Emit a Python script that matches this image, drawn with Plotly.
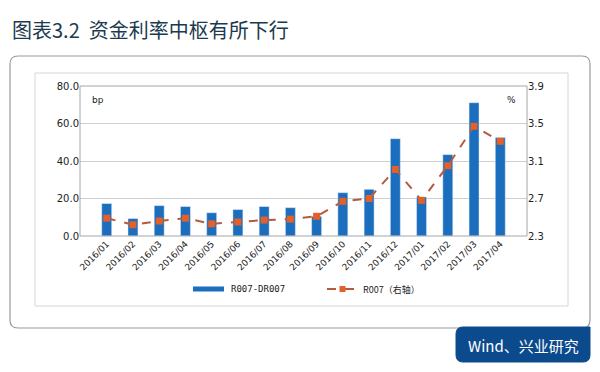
import plotly.graph_objects as go

months = ["2016/01", "2016/02", "2016/03", "2016/04", "2016/05", "2016/06", "2016/07", "2016/08",
          "2016/09", "2016/10", "2016/11", "2016/12", "2017/01", "2017/02", "2017/03", "2017/04"]
spread_bp = [17.3, 9.3, 16.2, 15.7, 12.4, 14.1, 15.7, 15.1, 10.5, 23.1, 24.9, 51.9, 20.8, 43.4, 71.1, 52.5]
r007 = [2.49, 2.42, 2.46, 2.49, 2.43, 2.45, 2.47, 2.48, 2.51, 2.67, 2.70, 3.01, 2.68, 3.05, 3.47, 3.31]
left_ticks = [0, 20, 40, 60, 80]
right_ticks = [2.3, 2.7, 3.1, 3.5, 3.9]

W, H = 600, 372
PL, PR, PT, PB = 80, 527, 86, 236

def px(x):
    return (x - PL) / (PR - PL)

def py(y):
    return (PB - y) / (PB - PT)

BAR = "#1b6dbd"
LINE = "#b65a3e"
MARK = "#e2602a"

fig = go.Figure()
fig.add_trace(go.Bar(x=months, y=spread_bp, name="R007-DR007", marker_color=BAR,
                     width=0.38, yaxis="y", showlegend=False))
fig.add_trace(go.Scatter(x=months, y=r007, name="R007（右轴）", yaxis="y2",
                         mode="lines+markers", line=dict(color=LINE, width=2, dash="dash"),
                         marker=dict(symbol="square", size=7, color=MARK), showlegend=False))

shapes = []

def rounded(x0, y0, x1, y1, r, tl=True, tr=True, br=True, bl=True):
    X = lambda v: px(v)
    Y = lambda v: py(v)
    rtl = r if tl else 0
    rtr = r if tr else 0
    rbr = r if br else 0
    rbl = r if bl else 0
    p = f"M {X(x0+rtl)},{Y(y0)} L {X(x1-rtr)},{Y(y0)} Q {X(x1)},{Y(y0)} {X(x1)},{Y(y0+rtr)} "
    p += f"L {X(x1)},{Y(y1-rbr)} Q {X(x1)},{Y(y1)} {X(x1-rbr)},{Y(y1)} "
    p += f"L {X(x0+rbl)},{Y(y1)} Q {X(x0)},{Y(y1)} {X(x0)},{Y(y1-rbl)} "
    p += f"L {X(x0)},{Y(y0+rtl)} Q {X(x0)},{Y(y0)} {X(x0+rtl)},{Y(y0)} Z"
    return p

shapes.append(dict(type="path", xref="paper", yref="paper", path=rounded(10, 56, 590, 328, 8),
                   line=dict(color="#9a9a9a", width=1.2), fillcolor="white", layer="below"))
shapes.append(dict(type="path", xref="paper", yref="paper", path=rounded(456, 327, 590, 362, 7, tl=True, tr=False),
                   line=dict(color="#0c4a8e", width=1), fillcolor="#0c4a8e", layer="above"))
shapes.append(dict(type="rect", xref="paper", yref="paper", x0=px(35), x1=px(568), y0=py(73), y1=py(306),
                   line=dict(color="#d6d6d6", width=1), fillcolor="white", layer="below"))
# plot frame
shapes.append(dict(type="rect", xref="paper", yref="paper", x0=0, x1=1, y0=0, y1=1,
                   line=dict(color="#a6a6a6", width=1), layer="above"))
# custom legend
shapes.append(dict(type="rect", xref="paper", yref="paper", x0=px(193), x1=px(224), y0=py(286.5), y1=py(291.5),
                   line=dict(width=0), fillcolor=BAR))
shapes.append(dict(type="line", xref="paper", yref="paper", x0=px(327), x1=px(358), y0=py(289), y1=py(289),
                   line=dict(color=LINE, width=2, dash="dash")))
shapes.append(dict(type="rect", xref="paper", yref="paper", x0=px(339.5), x1=px(345.5), y0=py(286), y1=py(292),
                   line=dict(width=0), fillcolor=MARK))

annotations = [
    dict(text="图表3.2  资金利率中枢有所下行", x=px(10), y=py(29), xref="paper", yref="paper",
         xanchor="left", yanchor="middle", showarrow=False,
         font=dict(family="Noto Sans CJK SC", size=20, color="#1b3a4e")),
    dict(text="bp", x=px(90), y=py(100), xref="paper", yref="paper", xanchor="left", yanchor="middle",
         showarrow=False, font=dict(family="DejaVu Sans", size=9, color="#222")),
    dict(text="%", x=px(518), y=py(100), xref="paper", yref="paper", xanchor="right", yanchor="middle",
         showarrow=False, font=dict(family="DejaVu Sans", size=9, color="#222")),
    dict(text="R007-DR007", x=px(229), y=py(289), xref="paper", yref="paper", xanchor="left", yanchor="middle",
         showarrow=False, font=dict(family="DejaVu Sans Mono", size=9, color="#222")),
    dict(text="R007（右轴）", x=px(361), y=py(289), xref="paper", yref="paper", xanchor="left", yanchor="middle",
         showarrow=False, font=dict(family="Noto Sans CJK SC", size=9, color="#222")),
    dict(text="Wind、兴业研究", x=px(523), y=py(345), xref="paper", yref="paper", xanchor="center", yanchor="middle",
         showarrow=False, font=dict(family="Noto Sans CJK SC", size=15, color="white")),
]

fig.update_layout(
    width=W, height=H,
    margin=dict(l=PL, r=W - PR, t=PT, b=H - PB),
    paper_bgcolor="white", plot_bgcolor="white",
    showlegend=False,
    bargap=0.6,
    font=dict(family="DejaVu Sans", size=10, color="#222"),
    xaxis=dict(type="category", tickangle=-45, tickfont=dict(size=9, family="DejaVu Sans"),
               showgrid=False, showline=False, ticks="", ticklen=0),
    yaxis=dict(range=[0, 80], tickvals=left_ticks, ticktext=[f"{v:.1f}" for v in left_ticks],
               showgrid=True, gridcolor="#cfcfcf", gridwidth=1, zeroline=False, showline=False,
               ticks="", tickfont=dict(size=10)),
    yaxis2=dict(range=[2.3, 3.9], tickvals=right_ticks, ticktext=[f"{v:.1f}" for v in right_ticks],
                overlaying="y", side="right", showgrid=False, zeroline=False, showline=False,
                ticks="", tickfont=dict(size=10)),
    shapes=shapes,
    annotations=annotations,
)

fig.write_html("out.html", config={"displayModeBar": False},
               post_script="document.body.style.margin='0';document.body.style.overflow='hidden';")
